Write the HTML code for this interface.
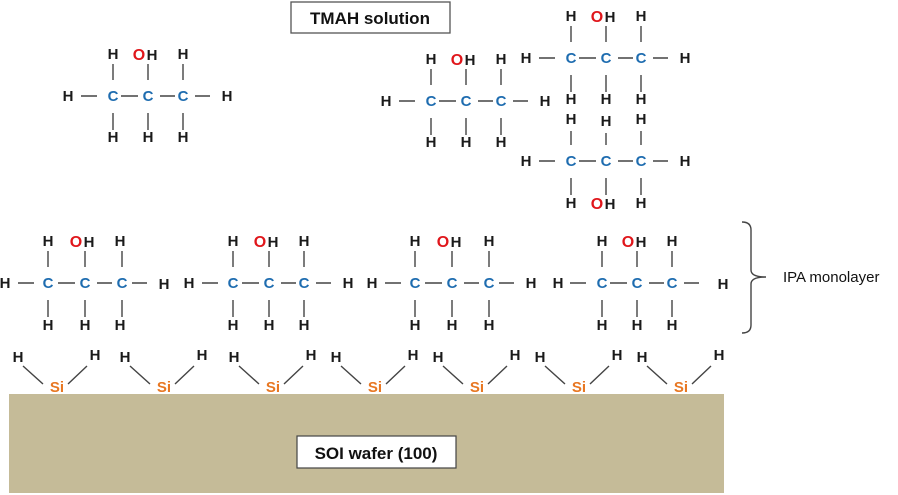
<!DOCTYPE html>
<html><head><meta charset="utf-8"><style>
html,body{margin:0;padding:0;background:#fff;width:898px;height:495px;overflow:hidden}
svg{display:block}
text{font-family:"Liberation Sans",sans-serif;font-weight:bold}
.h{font-size:15px;fill:#1a1a1a;text-anchor:middle}
.c{font-size:15px;fill:#1f6db0;text-anchor:middle}
.o{font-size:16px;fill:#e0161b;text-anchor:middle}
.s{font-size:15px;fill:#e87722;text-anchor:middle}
.b{stroke:#444;stroke-width:1.4;fill:none}
</style></head><body>
<svg width="898" height="495" viewBox="0 0 898 495" xmlns="http://www.w3.org/2000/svg">
<rect x="291" y="2" width="159" height="31" fill="#fff" stroke="#555" stroke-width="1.3"/>
<text x="370" y="24" style="font-size:17px;text-anchor:middle;fill:#111">TMAH solution</text>

<g transform="translate(148,96)">
<path class="b" d="M-35 -32V-16M0 -32V-16M35 -32V-16M-35 17V34M0 17V34M35 17V34M-67 0H-51M-27 0H-10M12 0H27M47 0H62"/>
<text class="h" x="-80" y="5">H</text><text class="c" x="-35" y="5">C</text><text class="c" x="0" y="5">C</text><text class="c" x="35" y="5">C</text><text class="h" x="79" y="5">H</text>
<text class="h" x="-35" y="-37">H</text><text class="o" x="-9" y="-36">O</text><text class="h" x="4" y="-36">H</text><text class="h" x="35" y="-37">H</text>
<text class="h" x="-35" y="46">H</text><text class="h" x="0" y="46">H</text><text class="h" x="35" y="46">H</text>
</g>
<g transform="translate(466,101)">
<path class="b" d="M-35 -32V-16M0 -32V-16M35 -32V-16M-35 17V34M0 17V34M35 17V34M-67 0H-51M-27 0H-10M12 0H27M47 0H62"/>
<text class="h" x="-80" y="5">H</text><text class="c" x="-35" y="5">C</text><text class="c" x="0" y="5">C</text><text class="c" x="35" y="5">C</text><text class="h" x="79" y="5">H</text>
<text class="h" x="-35" y="-37">H</text><text class="o" x="-9" y="-36">O</text><text class="h" x="4" y="-36">H</text><text class="h" x="35" y="-37">H</text>
<text class="h" x="-35" y="46">H</text><text class="h" x="0" y="46">H</text><text class="h" x="35" y="46">H</text>
</g>
<g transform="translate(606,58)">
<path class="b" d="M-35 -32V-16M0 -32V-16M35 -32V-16M-35 17V34M0 17V34M35 17V34M-67 0H-51M-27 0H-10M12 0H27M47 0H62"/>
<text class="h" x="-80" y="5">H</text><text class="c" x="-35" y="5">C</text><text class="c" x="0" y="5">C</text><text class="c" x="35" y="5">C</text><text class="h" x="79" y="5">H</text>
<text class="h" x="-35" y="-37">H</text><text class="o" x="-9" y="-36">O</text><text class="h" x="4" y="-36">H</text><text class="h" x="35" y="-37">H</text>
<text class="h" x="-35" y="46">H</text><text class="h" x="0" y="46">H</text><text class="h" x="35" y="46">H</text>
</g>
<g transform="translate(606,161)">
<path class="b" d="M-35 -30V-16M0 -28V-16M35 -30V-16M-35 17V34M0 17V34M35 17V34M-67 0H-51M-27 0H-10M12 0H27M47 0H62"/>
<text class="h" x="-80" y="5">H</text><text class="c" x="-35" y="5">C</text><text class="c" x="0" y="5">C</text><text class="c" x="35" y="5">C</text><text class="h" x="79" y="5">H</text>
<text class="h" x="-35" y="-37">H</text><text class="h" x="0" y="-35">H</text><text class="h" x="35" y="-37">H</text>
<text class="h" x="-35" y="47">H</text><text class="o" x="-9" y="48">O</text><text class="h" x="4" y="48">H</text><text class="h" x="35" y="47">H</text>
</g>

<g transform="translate(85,283)">
<path class="b" d="M-37 -32V-16M0 -32V-16M37 -32V-16M-37 17V34M0 17V34M37 17V34M-67 0H-51M-27 0H-10M12 0H27M47 0H62"/>
<text class="h" x="-80" y="5">H</text><text class="c" x="-37" y="5">C</text><text class="c" x="0" y="5">C</text><text class="c" x="37" y="5">C</text><text class="h" x="79" y="6">H</text>
<text class="h" x="-37" y="-37">H</text><text class="o" x="-9" y="-36">O</text><text class="h" x="4" y="-36">H</text><text class="h" x="35" y="-37">H</text>
<text class="h" x="-37" y="47">H</text><text class="h" x="0" y="47">H</text><text class="h" x="35" y="47">H</text>
</g>
<g transform="translate(269,283)">
<path class="b" d="M-36 -32V-16M0 -32V-16M35 -32V-16M-36 17V34M0 17V34M35 17V34M-67 0H-51M-27 0H-10M12 0H27M47 0H62"/>
<text class="h" x="-80" y="5">H</text><text class="c" x="-36" y="5">C</text><text class="c" x="0" y="5">C</text><text class="c" x="35" y="5">C</text><text class="h" x="79" y="5">H</text>
<text class="h" x="-36" y="-37">H</text><text class="o" x="-9" y="-36">O</text><text class="h" x="4" y="-36">H</text><text class="h" x="35" y="-37">H</text>
<text class="h" x="-36" y="47">H</text><text class="h" x="0" y="47">H</text><text class="h" x="35" y="47">H</text>
</g>
<g transform="translate(452,283)">
<path class="b" d="M-37 -32V-16M0 -32V-16M37 -32V-16M-37 17V34M0 17V34M37 17V34M-67 0H-51M-27 0H-10M12 0H27M47 0H62"/>
<text class="h" x="-80" y="5">H</text><text class="c" x="-37" y="5">C</text><text class="c" x="0" y="5">C</text><text class="c" x="37" y="5">C</text><text class="h" x="79" y="5">H</text>
<text class="h" x="-37" y="-37">H</text><text class="o" x="-9" y="-36">O</text><text class="h" x="4" y="-36">H</text><text class="h" x="37" y="-37">H</text>
<text class="h" x="-37" y="47">H</text><text class="h" x="0" y="47">H</text><text class="h" x="37" y="47">H</text>
</g>
<g transform="translate(637,283)">
<path class="b" d="M-35 -32V-16M0 -32V-16M35 -32V-16M-35 17V34M0 17V34M35 17V34M-67 0H-51M-27 0H-10M12 0H27M47 0H62"/>
<text class="h" x="-79" y="5">H</text><text class="c" x="-35" y="5">C</text><text class="c" x="0" y="5">C</text><text class="c" x="35" y="5">C</text><text class="h" x="86" y="6">H</text>
<text class="h" x="-35" y="-37">H</text><text class="o" x="-9" y="-36">O</text><text class="h" x="4" y="-36">H</text><text class="h" x="35" y="-37">H</text>
<text class="h" x="-35" y="47">H</text><text class="h" x="0" y="47">H</text><text class="h" x="35" y="47">H</text>
</g>

<path class="b" d="M742 222 Q751 222 751 230 V270 Q751 277 766 277 Q751 277 751 284 V325 Q751 333 742 333" stroke-width="1.3"/>
<text x="783" y="282" style="font-size:15px;font-weight:normal;fill:#111">IPA monolayer</text>

<rect x="9" y="394" width="715" height="99" fill="#c5bb98"/>
<rect x="297" y="436" width="159" height="32" fill="#fff" stroke="#444" stroke-width="1.2"/>
<text x="376" y="459" style="font-size:17px;text-anchor:middle;fill:#111">SOI wafer (100)</text>

<g transform="translate(57,0)"><path class="b" d="M-34 366L-14 384M11 384L30 366"/><text class="h" x="-39" y="362">H</text><text class="h" x="38" y="360">H</text><text class="s" x="0" y="392">Si</text></g>
<g transform="translate(164,0)"><path class="b" d="M-34 366L-14 384M11 384L30 366"/><text class="h" x="-39" y="362">H</text><text class="h" x="38" y="360">H</text><text class="s" x="0" y="392">Si</text></g>
<g transform="translate(273,0)"><path class="b" d="M-34 366L-14 384M11 384L30 366"/><text class="h" x="-39" y="362">H</text><text class="h" x="38" y="360">H</text><text class="s" x="0" y="392">Si</text></g>
<g transform="translate(375,0)"><path class="b" d="M-34 366L-14 384M11 384L30 366"/><text class="h" x="-39" y="362">H</text><text class="h" x="38" y="360">H</text><text class="s" x="0" y="392">Si</text></g>
<g transform="translate(477,0)"><path class="b" d="M-34 366L-14 384M11 384L30 366"/><text class="h" x="-39" y="362">H</text><text class="h" x="38" y="360">H</text><text class="s" x="0" y="392">Si</text></g>
<g transform="translate(579,0)"><path class="b" d="M-34 366L-14 384M11 384L30 366"/><text class="h" x="-39" y="362">H</text><text class="h" x="38" y="360">H</text><text class="s" x="0" y="392">Si</text></g>
<g transform="translate(681,0)"><path class="b" d="M-34 366L-14 384M11 384L30 366"/><text class="h" x="-39" y="362">H</text><text class="h" x="38" y="360">H</text><text class="s" x="0" y="392">Si</text></g>
</svg>
</body></html>
